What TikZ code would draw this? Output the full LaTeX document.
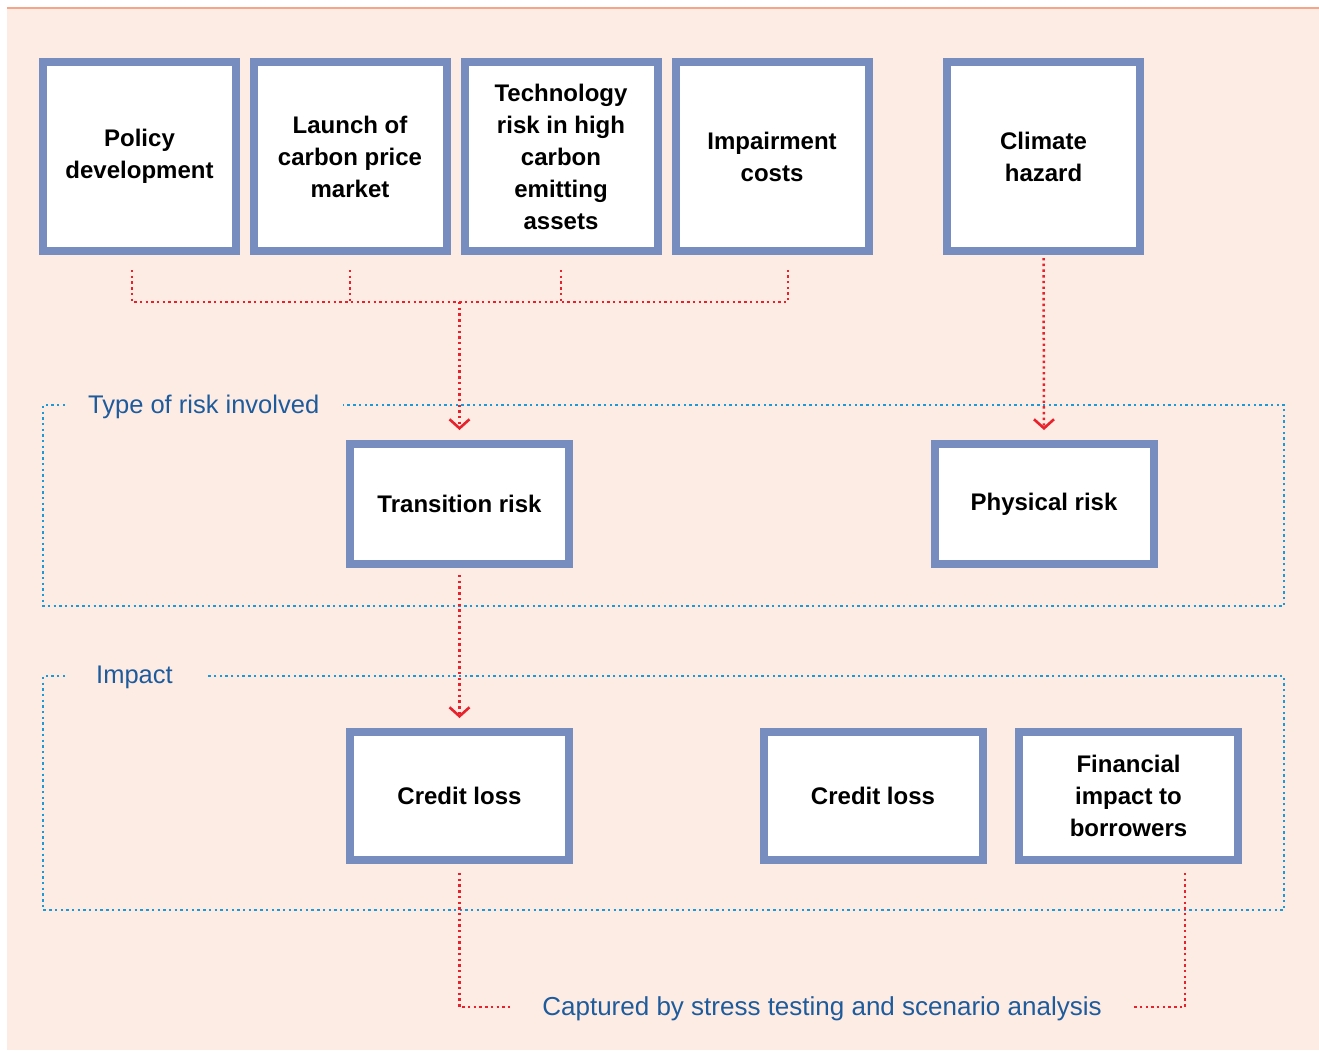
\documentclass[tikz,border=0pt]{standalone}
\usepackage{fontspec}
\setmainfont{Liberation Sans}
\usetikzlibrary{arrows.meta,calc}
\definecolor{boxblue}{RGB}{120,141,191}
\definecolor{peach}{RGB}{253,236,228}
\definecolor{toprule}{RGB}{245,166,138}
\definecolor{dotred}{RGB}{232,34,45}
\definecolor{dotblue}{RGB}{27,154,215}
\definecolor{lblblue}{RGB}{30,91,156}

\begin{document}
\begin{tikzpicture}[x=1pt,y=-1pt,>={Straight Barb[length=9pt,width=20pt,line width=2.6pt]},
  box/.style={draw=boxblue,line width=8pt,fill=white,align=center,font=\fontsize{24}{32}\selectfont\bfseries},
  topbox/.style={box,minimum width=193pt,minimum height=189pt},
  riskbox/.style={box,minimum width=219pt,minimum height=120pt},
  lossbox/.style={box,minimum width=219pt,minimum height=128pt},
  lbl/.style={text=lblblue,inner sep=0pt,font=\fontsize{25.5}{30}\selectfont},
  reddot/.style={dotred,line width=2.5pt,dash pattern=on 2.4pt off 3.3pt},
  bluedot/.style={dotblue,line width=2.5pt,dash pattern=on 2.4pt off 3.3pt}]
  \useasboundingbox (0,0) rectangle (1319,1050);
  \fill[peach] (7,8) rectangle (1319,1050);
  \draw[toprule,line width=1.5pt] (7,8) -- (1319,8);

  % drivers
  \foreach \x/\name/\txt in {139.5/pol/{Policy\\development},350/lcp/{Launch of\\carbon price\\market},
      561/tech/{Technology\\risk in high\\carbon\\emitting\\assets},772/imp/{Impairment\\costs},1043.5/clim/{Climate\\hazard}}{
    \node[topbox] (\name) at (\x,156.5) {\txt};
  }

  % type of risk
  \node[lbl,anchor=west] (typelbl) at (88,407) {Type of risk involved};
  \draw[bluedot] (65,405) -| (43,606) -| (1284,405) -- (343,405);
  \node[riskbox] (trans) at (459.5,504) {Transition risk};
  \node[riskbox] (phys) at (1044,504) {Physical risk};

  % impact
  \node[lbl,anchor=west] (implbl) at (96,677) {Impact};
  \draw[bluedot] (65,676) -| (43,910) -| (1284,676) -- (208,676);
  \node[lossbox] (cl1) at (459.5,796) {Credit loss};
  \node[lossbox] (cl2) at (873,796) {Credit loss};
  \node[lossbox] (fin) at (1128.5,796) {Financial\\impact to\\borrowers};

  \node[lbl,font=\fontsize{26}{30}\selectfont] (capt) at (822,1009) {Captured by stress testing and scenario analysis};

  % connectors
  \coordinate (bus) at (459.5,302);
  \draw[reddot] ([xshift=-7.5pt,yshift=-15pt]pol.south) -- ++(0,32) -| ([xshift=16pt,yshift=-15pt]imp.south);
  \draw[reddot] ([yshift=-15pt]lcp.south) -- ++(0,32);
  \draw[reddot] ([yshift=-15pt]tech.south) -- ++(0,32);
  \draw[reddot,->] (bus) -- ([yshift=10pt]trans.north);
  \draw[reddot,->] ([yshift=-3pt]clim.south) -- ([yshift=10pt]phys.north);
  \draw[reddot,->] ([yshift=-7pt]trans.south) -- ([yshift=10pt]cl1.north);
  \draw[reddot] ([yshift=-9pt]cl1.south) |- ([xshift=-32pt,yshift=2pt]capt.west);
  \draw[reddot] ([xshift=56.5pt,yshift=-9pt]fin.south) |- ([xshift=30pt,yshift=2pt]capt.east);
\end{tikzpicture}
\end{document}
